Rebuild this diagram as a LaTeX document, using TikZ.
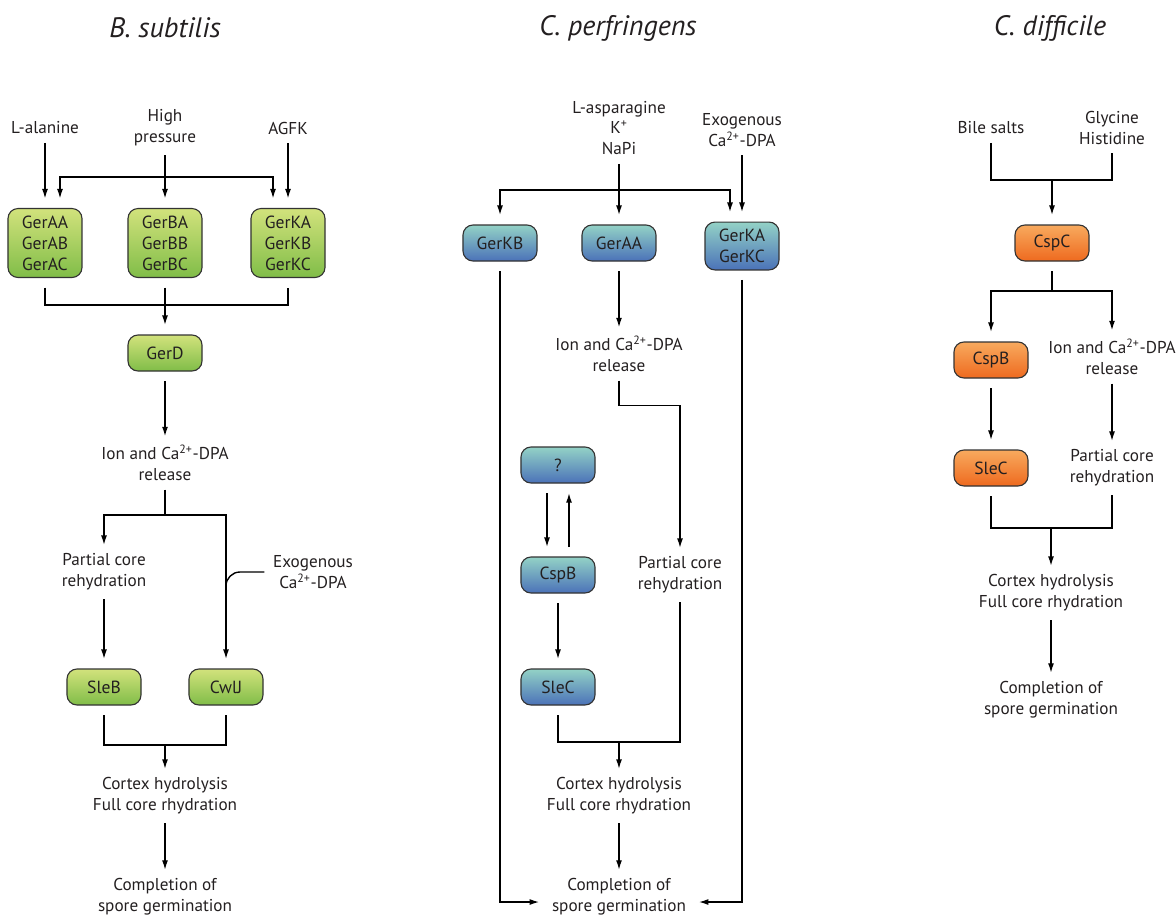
\documentclass[tikz,border=0pt]{standalone}
\usepackage{fontspec}
\setmainfont{PT Sans}
\usetikzlibrary{arrows.meta,positioning,calc}
\definecolor{greentop}{HTML}{D2E27C}
\definecolor{greenbot}{HTML}{80BD48}
\definecolor{bluetop}{HTML}{93D2C6}
\definecolor{bluebot}{HTML}{4B72B8}
\definecolor{orangetop}{HTML}{F8AA5E}
\definecolor{orangebot}{HTML}{EE6A1F}
\definecolor{edge}{HTML}{333333}
\definecolor{ink}{HTML}{231F20}
\newcommand{\cadpa}{Ca\textsuperscript{2+}-DPA}

\begin{document}
\begin{tikzpicture}[x=0.025cm,y=-0.025cm,font=\fontsize{12.2}{14.8}\selectfont,>={Latex[length=2.4mm,width=1.5mm]},line width=1pt]
  \tikzset{prot/.style={draw=edge,line width=0.8pt,rounded corners=2.5mm,minimum width=1.85cm,minimum height=0.9cm,inner ysep=5pt,align=center,outer sep=0.25cm,text=ink,font=\fontsize{12.5}{15}\selectfont},
    bsub/.style={prot,top color=greentop,bottom color=greenbot},
    cper/.style={prot,top color=bluetop,bottom color=bluebot},
    cdif/.style={prot,top color=orangetop,bottom color=orangebot},
    lbl/.style={align=center,inner sep=0pt,outer sep=0.22cm,text=ink},
    ttl/.style={text=ink,font=\fontsize{20}{24}\selectfont\itshape}}
  \useasboundingbox (0,0) rectangle (1176,917);
  % titles
  \node[ttl] (tbs) at (165,28) {B. subtilis};
  \node[ttl] (tcp) at (618,28) {C. perfringens};
  \node[ttl] (tcd) at (1050,28) {C. difficile};

  % B. subtilis
  \node[lbl] (lala) at (45,128) {L-alanine};
  \node[lbl] (hp) at (165,128) {High\\pressure};
  \node[lbl] (agfk) at (288,128) {AGFK};
  \node[bsub] (gerA) at (45,243) {GerAA\\GerAB\\GerAC};
  \node[bsub] (gerB) at (165,243) {GerBA\\GerBB\\GerBC};
  \node[bsub] (gerK) at (288,243) {GerKA\\GerKB\\GerKC};
  \node[bsub] (gerD) at (165,353) {GerD};
  \node[lbl] (ionL) at (165,463) {Ion and \cadpa\\release};
  \node[lbl] (partL) at (104,572) {Partial core\\rehydration};
  \node[lbl] (exoL) at (313,572) {Exogenous\\\cadpa};
  \node[bsub] (sleB) at (104,687) {SleB};
  \node[bsub] (cwlJ) at (226,687) {CwlJ};
  \node[lbl] (cortL) at (165,796) {Cortex hydrolysis\\Full core rhydration};
  \node[lbl] (complL) at (165,897) {Completion of\\spore germination};
  \coordinate (barLt) at (165,177);
  \coordinate (barLb) at (165,305);
  \coordinate (forkL) at (165,515);
  \coordinate (exoJoin) at (226,612);
  \coordinate (barL3) at (165,745);
  \draw[->] (lala) -- (gerA);
  \draw[->] (agfk) -- (gerK);
  \draw[->] (hp) -- (gerB);
  \draw[->] (barLt) -| ($(gerA.north)+(15,0)$);
  \draw[->] (barLt) -| ($(gerK.north)+(-15,0)$);
  \draw (gerA.south) |- (barLb) -| (gerK.south);
  \draw[->] (gerB.south) -- (gerD.north);
  \draw[->] (gerD) -- (ionL);
  \draw (ionL.south) -- (forkL);
  \draw[->] (forkL) -| (partL.north);
  \draw[->] (forkL) -| (cwlJ.north);
  \draw[rounded corners=0.35cm] (exoL.west) -| (exoJoin);
  \draw[->] (partL) -- (sleB);
  \draw (sleB.south) |- (barL3) -| (cwlJ.south);
  \draw[->] (barL3) -- (cortL.north);
  \draw[->] (cortL) -- (complL);

  % C. perfringens
  \node[lbl] (asn) at (619,128) {L-asparagine\\K\textsuperscript{+}\\NaPi};
  \node[lbl] (exoC) at (742,130) {Exogenous\\\cadpa};
  \node[cper] (gerKB) at (500,243) {GerKB};
  \node[cper] (gerAA) at (619,243) {GerAA};
  \node[cper] (gerKAC) at (742,246) {GerKA\\GerKC};
  \node[lbl] (ionC) at (619,354) {Ion and \cadpa\\release};
  \node[cper] (qbox) at (558,465) {?};
  \node[cper] (cspBC) at (558,575) {CspB};
  \node[cper] (sleCC) at (558,687) {SleC};
  \node[lbl] (partC) at (680,575) {Partial core\\rehydration};
  \node[lbl] (cortC) at (619,796) {Cortex hydrolysis\\Full core rhydration};
  \node[lbl] (complC) at (619,897) {Completion of\\spore germination};
  \coordinate (barCt) at (619,190);
  \coordinate (barC) at (619,742);
  \draw[->] (asn.south) -- (gerAA.north);
  \draw[->] (barCt) -| (gerKB.north);
  \draw[->] (barCt) -| ($(gerKAC.north)+(-12,0)$);
  \draw[->] (exoC) -- (gerKAC);
  \draw[->] (gerAA) -- (ionC);
  \draw[->] (ionC.south) -- ++(0,25) -| (partC.north);
  \draw[->] ($(qbox.south)+(-11,0)$) -- ($(cspBC.north)+(-11,0)$);
  \draw[->] ($(cspBC.north)+(11,0)$) -- ($(qbox.south)+(11,0)$);
  \draw[->] (cspBC) -- (sleCC);
  \draw (partC.south) |- (barC) -| (sleCC.south);
  \draw[->] (barC) -- (cortC.north);
  \draw[->] (cortC) -- (complC);
  \draw[->] (gerKB.south) |- ($(complC.west)+(-4,5)$);
  \draw[->] (gerKAC.south) |- ($(complC.east)+(4,5)$);

  % C. difficile
  \node[lbl] (bile) at (991,128) {Bile salts};
  \node[lbl] (gly) at (1112,128) {Glycine\\Histidine};
  \node[cdif] (cspC) at (1052,243) {CspC};
  \node[cdif] (cspBR) at (991,360) {CspB};
  \node[lbl] (ionR) at (1112,357) {Ion and \cadpa\\release};
  \node[cdif] (sleCR) at (991,468) {SleC};
  \node[lbl] (partR) at (1112,468) {Partial core\\rehydration};
  \node[lbl] (cortR) at (1051,593) {Cortex hydrolysis\\Full core rhydration};
  \node[lbl] (complR) at (1051,700) {Completion of\\spore germination};
  \coordinate (barR) at (1052,180);
  \coordinate (forkR) at (1052,291);
  \coordinate (barR2) at (1051,528);
  \draw (bile.south) |- (barR) -| (gly.south);
  \draw[->] (barR) -- (cspC.north);
  \draw (cspC.south) -- (forkR);
  \draw[->] (forkR) -| (cspBR.north);
  \draw[->] (forkR) -| (ionR.north);
  \draw[->] (cspBR) -- (sleCR);
  \draw[->] (ionR) -- (partR);
  \draw (sleCR.south) |- (barR2) -| (partR.south);
  \draw[->] (barR2) -- (cortR.north);
  \draw[->] (cortR) -- (complR);
\end{tikzpicture}
\end{document}
